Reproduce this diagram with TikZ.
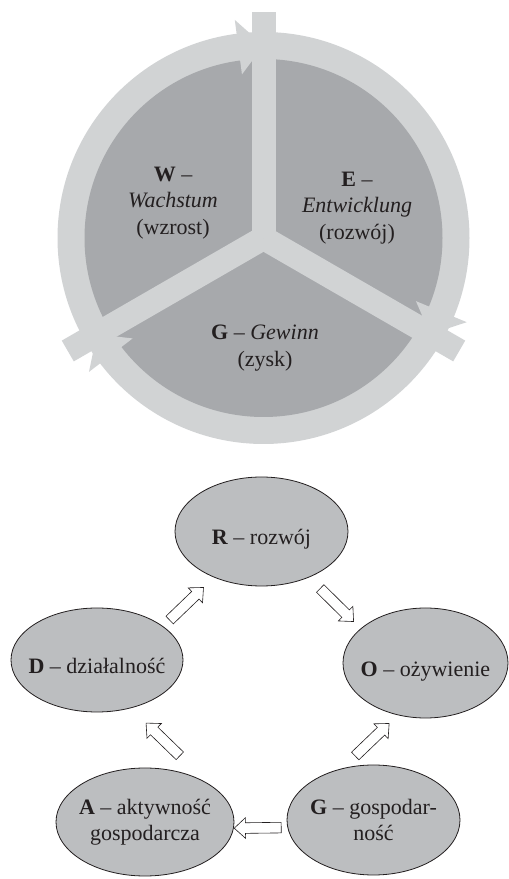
\documentclass[tikz,border=0pt]{standalone}
\usepackage{fontspec}
\setmainfont{Liberation Serif}
\usetikzlibrary{shapes.geometric, shapes.arrows}
\definecolor{ringgray}{HTML}{D1D3D4}
\definecolor{wedgegray}{HTML}{A7A9AC}
\definecolor{ovalgray}{HTML}{BCBEC0}
\definecolor{inkgray}{HTML}{231F20}

\begin{document}
\begin{tikzpicture}[
  x=1pt, y=1pt,
  font=\fontsize{22}{26.5}\selectfont,
  text=inkgray,
  sector/.style={align=center, inner sep=0pt},
  oval/.style={ellipse, draw=inkgray, line width=0.8pt, fill=ovalgray,
               inner xsep=-12pt, inner ysep=0pt, align=center},
  lowtext/.style={text height=30pt, text depth=3pt},
  flow/.style={single arrow, draw=inkgray, line width=0.6pt, fill=white,
               sloped, allow upside down, inner xsep=0pt, inner ysep=5pt,
               minimum height=47pt,
               single arrow head extend=5pt, single arrow tip angle=85}
]
\useasboundingbox (0,0) rectangle (509,879);
% upper cycle: ring, spokes, arrow barbs
\begin{scope}[shift={(263.5,641)}]
  \fill[ringgray] (0,0) circle (206);
  \fill[wedgegray] (0,0) circle (179);
  \foreach \a in {90,210,330} {
    \draw[ringgray, line width=24pt] (0,0) -- (\a:226);
    \fill[ringgray] ({\a+7.5}:165) -- ({\a+7.5}:220) -- (\a:192.5) -- cycle;
  }
\end{scope}
\node[sector] (W) at (173,676) {\textbf{W} –\\\textit{Wachstum}\\(wzrost)};
\node[sector] (E) at (357,671) {\textbf{E} –\\\textit{Entwicklung}\\(rozwój)};
\node[sector] (Gw) at (265,531) {\textbf{G} – \textit{Gewinn}\\(zysk)};

% lower cycle
\node[oval, lowtext, minimum width=173pt, minimum height=109pt] (R) at (261.5,347.5) {\textbf{R} – rozwój};
\node[oval, lowtext, minimum width=172pt, minimum height=104pt] (D) at (97,219) {\textbf{D} – działalność};
\node[oval, lowtext, minimum width=165pt, minimum height=110pt] (O) at (425.5,216) {\textbf{O} – ożywienie};
\node[oval, minimum width=178pt, minimum height=108pt] (A) at (145,57) {\textbf{A} – aktywność\\gospodarcza};
\node[oval, minimum width=173pt, minimum height=110pt] (G) at (373.5,59) {\textbf{G} – gospodar-\\ność};

\path (D.27) -- node[flow, pos=0.42] {} (R.224);
\path (R.-44) -- node[flow] {} (O.152);
\path (G.121) -- node[flow] {} (O.242);
\path (A.31) -- node[flow, pos=0.56] {} (D.-55);
\path (G.185) -- node[flow] {} (A.-4);
\end{tikzpicture}
\end{document}
